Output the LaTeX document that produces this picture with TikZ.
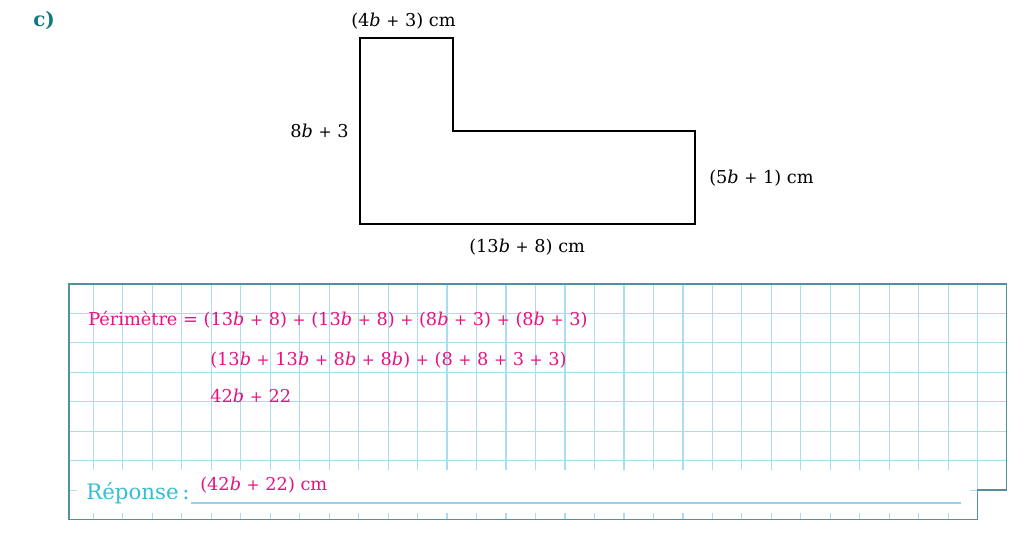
\documentclass[tikz,border=0pt]{standalone}
\usepackage{fontspec}
\usepackage{graphicx}
\setmainfont{DejaVu Serif}
\definecolor{pk}{RGB}{229,18,128}
\definecolor{cy}{RGB}{52,190,214}
\definecolor{tl}{RGB}{20,120,130}
\definecolor{fr}{RGB}{80,145,155}
\definecolor{gr}{RGB}{170,220,242}
\definecolor{ln}{RGB}{150,210,238}
\newcommand\vb{\textit{b}}
\newcommand\pl{\scalebox{0.88}{+}}
\begin{document}
\begin{tikzpicture}[x=0.75pt,y=-0.75pt,
  txt/.style={anchor=base west, inner sep=0pt, font=\fontsize{13.3}{16}\selectfont},
  ans/.style={txt, text=pk},
  gridline/.style={gr, line width=0.9pt},
  framel/.style={fr, line width=0.9pt},
  lshape/.style={black, line width=1.3pt}]
\useasboundingbox (0,0) rectangle (1025,536);
% heading
\node[txt, text=tl, font=\fontsize{15}{18}\selectfont\bfseries] (c) at (33,26) {c)};
% L shape
\draw[lshape] (360,38) -- (453,38) -- (453,131) -- (695,131) -- (695,224) -- (360,224) -- cycle;
\node[txt] (top) at (351,26.7) {(4\vb{} \pl{} 3) cm};
\node[txt] (left) at (290,137.7) {8\vb{} \pl{} 3};
\node[txt] (right) at (709,183.5) {(5\vb{} \pl{} 1) cm};
\node[txt] (bottom) at (469,252.5) {(13\vb{} \pl{} 8) cm};
% grid paper
\begin{scope}
\clip (69,284) -- (1006.7,284) -- (1006.7,490) -- (977.7,490) -- (977.7,519.3) -- (69,519.3) -- cycle;
\foreach \k in {0,...,30} \draw[gridline] ({93.3+29.48*\k},284) -- ({93.3+29.48*\k},520);
\foreach \k in {0,...,6} \draw[gridline] (69,{313.3+29.48*\k}) -- (1007,{313.3+29.48*\k});
\end{scope}
\fill[white] (77,470) rectangle (970,512.5);
\draw[framel] (69,284) -- (1006.7,284) -- (1006.7,490) -- (977.7,490) -- (977.7,519.3) -- (69,519.3) -- cycle;
\draw[ln, line width=1pt] (191,503) -- (961,503);
% answer text
\node[ans] (l1) at (88,325) {Périmètre = (13\vb{} \pl{} 8) \pl{} (13\vb{} \pl{} 8) \pl{} (8\vb{} \pl{} 3) \pl{} (8\vb{} \pl{} 3)};
\node[ans] (l2) at (210,365) {(13\vb{} \pl{} 13\vb{} \pl{} 8\vb{} \pl{} 8\vb) \pl{} (8 \pl{} 8 \pl{} 3 \pl{} 3)};
\node[ans] (l3) at (210,402.7) {42\vb{} \pl{} 22};
\node[txt, text=cy, font=\fontsize{16}{19}\selectfont] (rep) at (86,499) {Réponse\,:};
\node[ans] (res) at (200,490.7) {(42\vb{} \pl{} 22) cm};
\end{tikzpicture}
\end{document}
